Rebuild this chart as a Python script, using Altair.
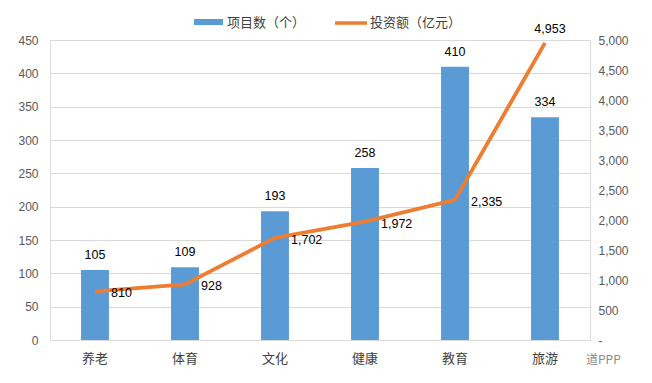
import altair as alt
import pandas as pd

categories = ["养老", "体育", "文化", "健康", "教育", "旅游"]
counts = [105, 109, 193, 258, 410, 334]
invest = [810, 928, 1702, 1972, 2335, 4953]

legend_labels = ["项目数（个）", "投资额（亿元）"]
watermark = "道PPP"

df = pd.DataFrame({"cat": categories, "count": counts, "invest": invest,
                   "idx": list(range(len(categories)))})

FONT_CN = "Noto Sans CJK SC"
FONT_NUM = "Liberation Sans"
BLUE = "#5B9BD5"
ORANGE = "#ED7D31"

x = alt.X("cat:N", sort=categories,
          scale=alt.Scale(paddingInner=0.69, paddingOuter=0.345),
          axis=alt.Axis(title=None, labelAngle=0, labelFont=FONT_CN, labelFontSize=13,
                        labelColor="#404040", ticks=False, domainColor="#D9D9D9",
                        labelPadding=12, domainWidth=1))

base = alt.Chart(df)

yL = alt.Y("count:Q", scale=alt.Scale(domain=[0, 450]),
           axis=alt.Axis(title=None, values=list(range(0, 451, 50)), grid=True,
                         gridColor="#D9D9D9", domain=False, ticks=False,
                         labelFont=FONT_NUM, labelFontSize=12, labelColor="#595959",
                         labelPadding=12))

bars = base.mark_bar(color=BLUE).encode(x=x, y=yL)
bar_text = base.mark_text(baseline="bottom", dy=-8, font=FONT_NUM, fontSize=12.5,
                          color="#000000").encode(x=x, y=yL, text=alt.Text("count:Q"))
left = alt.layer(bars, bar_text)

yR = alt.Y("invest:Q", scale=alt.Scale(domain=[0, 5000]),
           axis=alt.Axis(title=None, orient="right", values=list(range(0, 5001, 500)),
                         grid=False, domain=False, ticks=False,
                         labelFont=FONT_NUM, labelFontSize=12, labelColor="#595959",
                         labelPadding=8,
                         labelExpr="datum.value == 0 ? '-' : format(datum.value, ',')"))

line = base.mark_line(color=ORANGE, strokeWidth=3.8).encode(x=x, y=yR)
line_text = base.transform_filter("datum.idx < 5").mark_text(
    align="left", baseline="middle", dx=16, dy=2, font=FONT_NUM, fontSize=12.5,
    color="#000000").encode(x=x, y=yR, text=alt.Text("invest:Q", format=","))
line_text_top = base.transform_filter("datum.idx == 5").mark_text(
    align="center", baseline="bottom", dx=5, dy=-7, font=FONT_NUM, fontSize=12.5,
    color="#000000").encode(x=x, y=yR, text=alt.Text("invest:Q", format=","))
right = alt.layer(line, line_text, line_text_top)

one = alt.Chart(pd.DataFrame({"t": [legend_labels[0]]}))
two = alt.Chart(pd.DataFrame({"t": [legend_labels[1]]}))
wm = alt.Chart(pd.DataFrame({"t": [watermark]}))

leg1 = one.mark_rect(color=BLUE).encode(x=alt.value(144), x2=alt.value(173),
                                         y=alt.value(-21), y2=alt.value(-15))
leg1t = one.mark_text(align="left", baseline="middle", font=FONT_CN, fontSize=13,
                      color="#404040").encode(x=alt.value(177), y=alt.value(-17), text="t:N")
leg2 = two.mark_rule(color=ORANGE, strokeWidth=3.5).encode(x=alt.value(285), x2=alt.value(317),
                                                            y=alt.value(-17))
leg2t = two.mark_text(align="left", baseline="middle", font=FONT_CN, fontSize=13,
                      color="#404040").encode(x=alt.value(320), y=alt.value(-17), text="t:N")
wmt = wm.mark_text(align="left", baseline="middle", font=FONT_CN, fontSize=12,
                   color="#8a8a8a").encode(x=alt.value(536), y=alt.value(320), text="t:N")

chart = alt.layer(left, right, leg1, leg1t, leg2, leg2t, wmt).resolve_scale(
    y="independent").properties(
    width=540, height=300,
    autosize=alt.AutoSizeParams(type="none"),
    padding={"left": 42, "top": 32, "right": 54, "bottom": 35},
).configure_view(stroke=None).configure(background="white")

chart.save("out.html", embed_options={"renderer": "svg", "actions": False})
